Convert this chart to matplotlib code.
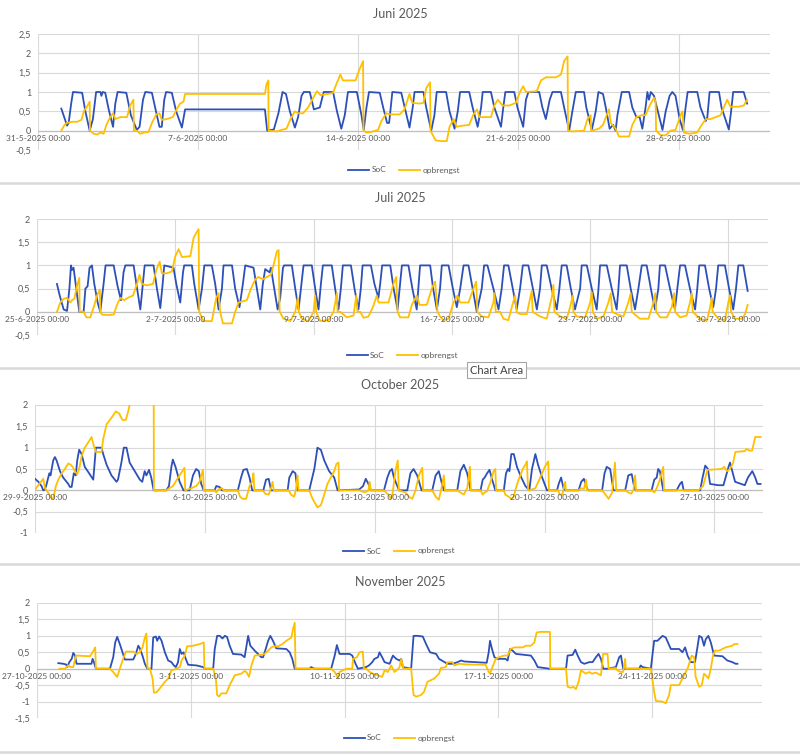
import numpy as np
import pandas as pd
import matplotlib
matplotlib.use("Agg")
import matplotlib.pyplot as plt
import matplotlib.dates as mdates
from matplotlib.lines import Line2D
from matplotlib.ticker import FuncFormatter

plt.rcParams['font.family'] = ['Lato', 'DejaVu Sans']

# (days since first axis date, value)
jun_soc = [(1.02,.57),(1.27,.13),(1.34,.2),(1.45,.7),(1.53,1),(1.93,.98),(2.07,.5),(2.26,0),(2.40,.3),(2.54,1),(2.73,1),(2.77,.9),(2.83,1),(2.94,.98),(3.09,.55),(3.28,.1),(3.38,.7),(3.48,1),(3.86,.98),(4.06,.4),(4.32,.02),(4.44,.1),(4.59,.8),(4.69,1),(4.98,.98),(5.12,.6),(5.31,.1),(5.41,.1),(5.52,.8),(5.60,1),(5.85,.98),(6.04,.5),(6.29,.08),(6.43,.55),(9.92,.55),(10.02,0),(10.31,.03),(10.51,.45),(10.69,1),(10.84,.95),(11.01,.5),(11.23,.08),(11.37,.35),(11.52,.9),(11.62,1),(11.88,1),(12.06,.55),(12.32,.6),(12.49,1),(12.90,1),(13.07,.5),(13.26,.05),(13.41,.4),(13.55,1),(13.94,1),(14.14,.4),(14.24,.02),(14.36,.6),(14.47,1),(14.94,.98),(15.09,.6),(15.26,.2),(15.35,.2),(15.49,1),(15.88,.98),(16.07,.5),(16.24,.08),(16.38,.6),(16.46,1),(16.85,1),(16.97,.6),(17.19,0),(17.33,.4),(17.43,1),(17.84,1),(17.99,.5),(18.21,.05),(18.35,.5),(18.45,1),(18.85,1),(19.00,.6),(19.22,.1),(19.37,.6),(19.44,1),(19.80,1),(19.95,.6),(20.24,.1),(20.34,.6),(20.43,1),(20.82,1),(20.96,.6),(21.21,.1),(21.33,.8),(21.44,1),(21.91,1),(22.05,.6),(22.20,.3),(22.37,.8),(22.49,1),(22.86,1),(23.00,.6),(23.22,0),(23.36,.5),(23.51,1),(23.87,1),(23.97,.6),(24.21,.02),(24.38,.5),(24.50,1),(24.70,.95),(24.82,.6),(24.99,.05),(25.14,.15),(25.25,0),(25.33,.4),(25.52,1),(25.84,1),(25.98,.6),(26.16,.35),(26.30,.35),(26.42,.05),(26.56,.6),(26.64,1),(26.71,.8),(26.79,1),(26.93,.9),(27.12,.45),(27.30,.02),(27.44,.5),(27.61,.9),(27.73,1),(27.87,.9),(28.05,.3),(28.19,.02),(28.31,.6),(28.40,1),(28.82,1),(28.96,.6),(29.19,.25),(29.26,.35),(29.36,1),(29.77,1),(29.88,.6),(30.20,.03),(30.30,.5),(30.39,1),(30.85,1),(31.00,.7)]
jun_opb = [(1.02,0),(1.16,.15),(1.27,.2),(1.49,.23),(1.71,.23),(1.90,.28),(2.00,.5),(2.12,.6),(2.26,.75),(2.27,0),(2.44,-.08),(2.58,-.1),(2.73,-.05),(2.87,-.08),(2.99,.15),(3.16,.35),(3.28,.45),(3.38,.3),(3.60,.35),(3.89,.35),(4.03,.65),(4.17,.8),(4.19,0),(4.32,0),(4.47,-.08),(4.64,-.05),(4.83,-.03),(4.98,.2),(5.17,.42),(5.31,.45),(5.41,.28),(5.63,.3),(5.89,.35),(6.06,.55),(6.21,.7),(6.36,.75),(6.43,.95),(9.92,.95),(9.99,1.2),(10.07,1.3),(10.08,0),(10.43,-.02),(10.65,.02),(10.86,.05),(11.04,.3),(11.23,.5),(11.37,.45),(11.59,.45),(11.81,.6),(12.03,.85),(12.20,1.02),(12.35,.92),(12.68,.95),(12.90,.98),(13.04,1.2),(13.22,1.45),(13.33,1.3),(13.88,1.3),(14.03,1.55),(14.21,1.8),(14.23,0),(14.36,-.05),(14.58,-.03),(14.87,.02),(15.01,.25),(15.23,.45),(15.40,.42),(15.81,.42),(16.02,.55),(16.24,.95),(16.36,.72),(16.68,.7),(16.85,.72),(16.97,1.1),(17.14,1.25),(17.16,0),(17.38,-.25),(17.62,-.27),(17.87,-.27),(17.99,.1),(18.17,.3),(18.30,.1),(18.45,.12),(18.85,.15),(19.02,.4),(19.19,.55),(19.30,.35),(19.80,.35),(19.95,.65),(20.10,.8),(20.31,.65),(20.60,.65),(20.89,.72),(21.07,1.0),(21.21,1.15),(21.33,1.0),(21.80,1.02),(21.99,1.3),(22.20,1.38),(22.64,1.38),(22.86,1.45),(23.00,1.8),(23.15,1.92),(23.17,0),(23.36,-.02),(23.87,0),(24.02,.3),(24.16,.4),(24.18,0),(24.52,.05),(24.70,.15),(24.89,.45),(24.96,.55),(25.04,.2),(25.25,.05),(25.40,-.15),(25.84,-.15),(25.98,.15),(26.16,.35),(26.39,.4),(26.56,.4),(26.74,.65),(26.93,.85),(27.00,.75),(27.02,0),(27.22,-.12),(27.44,-.12),(27.65,0),(27.87,.02),(28.09,.4),(28.17,.5),(28.24,-.05),(28.46,-.08),(28.82,-.05),(28.96,.1),(29.19,.3),(29.40,.3),(29.62,.35),(29.84,.4),(29.98,.6),(30.13,.8),(30.27,.62),(30.63,.62),(30.85,.65),(31.00,.8)]

jul_soc = [(1.01,.6),(1.15,.35),(1.35,.05),(1.52,.02),(1.64,.5),(1.72,1),(1.77,.9),(1.85,.95),(1.99,.5),(2.14,0),(2.36,0),(2.45,.5),(2.56,.55),(2.66,.95),(2.78,1),(2.90,.6),(3.07,.2),(3.20,0),(3.37,.6),(3.47,1),(3.88,1),(4.08,.55),(4.25,.25),(4.38,.85),(4.47,1),(4.89,1),(5.03,.6),(5.23,.05),(5.36,.6),(5.45,1),(5.90,1),(6.07,.5),(6.24,.08),(6.36,.6),(6.44,1),(6.91,.95),(7.05,.6),(7.25,.2),(7.39,.85),(7.45,1),(7.84,1),(7.96,.6),(8.18,.05),(8.35,.5),(8.47,1),(8.85,1),(9.02,.6),(9.19,.05),(9.36,.5),(9.44,1),(9.87,1),(10.03,.5),(10.25,.1),(10.42,.6),(10.54,1),(10.96,.95),(11.13,.5),(11.30,.05),(11.43,.6),(11.55,.92),(11.77,.85),(11.84,.95),(11.97,.6),(12.18,.05),(12.31,.3),(12.45,.95),(12.51,1),(12.90,1),(13.07,.5),(13.24,.05),(13.36,.5),(13.49,1),(13.91,1),(14.08,.5),(14.25,.05),(14.37,.6),(14.47,1),(14.92,1),(15.09,.5),(15.26,.05),(15.38,.5),(15.48,1),(15.89,1),(16.07,.5),(16.27,.05),(16.39,.5),(16.48,1),(16.90,1),(17.08,.6),(17.28,.3),(17.37,.6),(17.47,1),(17.88,1),(18.05,.5),(18.25,.05),(18.38,.6),(18.47,1),(18.80,1),(19.00,.5),(19.22,.05),(19.30,.5),(19.39,1),(19.90,1),(20.05,.5),(20.24,.05),(20.40,.5),(20.49,1),(20.83,1),(21.05,.5),(21.25,.1),(21.42,.5),(21.59,1),(21.84,1),(22.05,.5),(22.26,0),(22.51,.5),(22.63,1),(22.80,1),(23.10,.5),(23.36,.05),(23.52,.5),(23.64,1),(23.86,1),(24.08,.5),(24.28,.05),(24.45,.5),(24.59,1),(24.87,1),(25.10,.5),(25.30,.05),(25.46,.5),(25.55,1),(25.80,1),(26.05,.5),(26.31,.05),(26.44,.5),(26.56,1),(26.81,1),(27.02,.5),(27.23,.05),(27.49,.5),(27.57,1),(27.83,1),(28.08,.5),(28.33,.05),(28.42,.5),(28.50,1),(28.84,1),(29.09,.5),(29.34,.05),(29.43,.5),(29.51,1),(29.85,1),(30.05,.5),(30.27,.05),(30.44,.5),(30.61,1),(30.86,1),(31.07,.5),(31.28,.05),(31.45,.5),(31.53,1),(31.79,1),(32.04,.5),(32.29,.05),(32.41,.5),(32.55,1),(32.80,1),(33.05,.5),(33.31,.05),(33.42,.5),(33.52,1),(33.81,1),(34.02,.5),(34.23,.1),(34.37,.5),(34.48,1),(34.82,1),(35.03,.5),(35.24,.05),(35.38,.5),(35.50,1),(35.75,1),(35.97,.45)]
jul_opb = [(1.01,0),(1.18,.2),(1.35,.28),(1.52,.3),(1.69,.2),(1.77,.25),(1.89,.28),(2.02,.55),(2.14,.73),(2.16,0),(2.36,0),(2.50,-.12),(2.70,-.12),(2.87,.1),(3.04,.35),(3.18,.48),(3.20,0),(3.29,-.06),(3.54,-.07),(3.88,-.06),(4.05,.15),(4.22,.3),(4.42,.25),(4.59,.3),(4.86,.35),(5.06,.6),(5.19,.8),(5.31,.6),(5.56,.57),(5.87,.6),(6.04,.9),(6.21,1.08),(6.32,.83),(6.58,.83),(6.83,.87),(7.00,1.2),(7.17,1.35),(7.34,1.18),(7.76,1.2),(7.93,1.6),(8.09,1.72),(8.18,1.78),(8.21,0),(8.43,-.2),(8.85,-.2),(9.07,.3),(9.19,.4),(9.27,0),(9.41,-.25),(9.87,-.25),(10.03,0),(10.20,.2),(10.62,.25),(10.83,.5),(11.05,.7),(11.21,.75),(11.43,.7),(11.64,.75),(11.84,.8),(11.97,1.0),(12.14,1.3),(12.23,1.33),(12.28,0),(12.48,-.15),(12.82,-.2),(13.07,0),(13.20,.3),(13.25,0),(13.41,-.15),(13.74,-.2),(14.00,0),(14.08,.35),(14.13,0),(14.33,-.2),(14.76,-.18),(15.01,0),(15.18,.4),(15.21,0),(15.35,0),(15.68,-.12),(16.02,-.08),(16.16,.35),(16.22,0),(16.36,0),(16.53,-.13),(16.78,-.1),(17.00,.1),(17.20,.35),(17.29,.2),(17.79,.2),(18.04,.6),(18.18,.75),(18.25,0),(18.38,-.12),(18.80,-.12),(18.97,.15),(19.22,.35),(19.36,.15),(19.73,.15),(19.98,.5),(20.15,.65),(20.27,0),(20.40,-.1),(20.57,-.18),(20.83,-.15),(21.08,.2),(21.28,.35),(21.42,.2),(21.84,.2),(22.09,.5),(22.23,.65),(22.29,0),(22.51,-.1),(22.85,-.12),(23.10,.2),(23.15,.4),(23.22,0),(23.44,0),(23.61,-.15),(23.86,-.18),(24.03,.1),(24.20,.35),(24.28,0),(24.45,-.05),(24.79,-.05),(25.04,.45),(25.09,0),(25.46,-.1),(25.80,-.15),(26.05,.3),(26.14,.58),(26.19,0),(26.48,-.1),(26.81,-.15),(26.98,.1),(27.12,.35),(27.15,0),(27.32,-.1),(27.74,-.12),(28.00,.2),(28.08,.42),(28.13,0),(28.33,-.15),(28.67,-.1),(28.92,.2),(29.04,.4),(29.11,0),(29.34,-.05),(29.68,-.1),(29.93,.2),(30.05,.4),(30.10,0),(30.52,-.15),(30.95,-.15),(31.20,.2),(31.29,.4),(31.34,0),(31.54,-.12),(31.88,-.12),(32.13,.1),(32.25,.4),(32.30,0),(32.55,-.12),(32.88,-.08),(33.05,.2),(33.14,.4),(33.19,0),(33.56,-.15),(33.90,-.2),(34.07,.1),(34.15,.3),(34.20,0),(34.49,-.15),(34.82,-.18),(34.99,.2),(35.08,.35),(35.13,0),(35.33,-.15),(35.67,-.15),(35.84,-.05),(35.97,.15)]

oct_soc = [(0.0,.27),(0.14,.2),(0.27,.1),(0.34,0),(0.41,.02),(0.48,.15),(0.59,.4),(0.64,.35),(0.75,.7),(0.82,.78),(0.89,.7),(1.03,.45),(1.16,.3),(1.37,.15),(1.44,.08),(1.51,.08),(1.60,.4),(1.68,.35),(1.74,.7),(1.82,.95),(1.92,.85),(2.05,.55),(2.23,.4),(2.40,.25),(2.51,1),(2.74,1),(2.81,.85),(2.95,.6),(3.15,.35),(3.36,.2),(3.42,.25),(3.56,.65),(3.66,1),(3.77,1),(3.90,.65),(4.11,.45),(4.32,.25),(4.42,.2),(4.52,.45),(4.59,.35),(4.70,.48),(4.79,.3),(4.89,0),(5.41,0),(5.52,.1),(5.62,.55),(5.68,.72),(5.79,.55),(5.96,.2),(6.12,0),(6.37,0),(6.51,.35),(6.64,.5),(6.75,.45),(6.85,.15),(6.95,0),(7.40,0),(7.47,.1),(7.60,.08),(7.71,0),(8.36,0),(8.49,.3),(8.59,.48),(8.73,.5),(8.84,.3),(8.95,0),(9.41,0),(9.52,.25),(9.63,.27),(9.73,0),(10.41,0),(10.48,.3),(10.62,.45),(10.73,.4),(10.82,0),(11.30,0),(11.51,.5),(11.64,1),(11.78,.95),(11.92,.7),(12.12,.45),(12.33,.3),(12.47,0),(13.36,.02),(13.52,.1),(13.63,.27),(13.74,.15),(13.84,0),(14.38,0),(14.52,.3),(14.62,.45),(14.71,.5),(14.79,.3),(15.0,0),(15.34,0),(15.47,.4),(15.60,.5),(15.75,.35),(15.93,0),(16.37,0),(16.51,.35),(16.64,.45),(16.75,.2),(16.85,0),(17.40,0),(17.53,.45),(17.67,.6),(17.81,.4),(17.95,0),(18.36,0),(18.45,.25),(18.53,.3),(18.63,.4),(18.73,.48),(18.84,.25),(18.97,0),(19.32,0),(19.41,.4),(19.49,.5),(19.55,.45),(19.63,.85),(19.73,.85),(19.86,.55),(20.04,.3),(20.21,.1),(20.37,0),(20.48,.5),(20.62,.85),(20.73,.6),(20.90,.3),(21.10,0),(21.51,0),(21.58,.15),(21.68,.3),(21.78,.05),(21.85,0),(22.40,0),(22.51,.2),(22.62,.27),(22.71,.1),(22.79,0),(23.37,0),(23.47,.4),(23.56,.55),(23.70,.5),(23.84,0),(24.32,0),(24.45,.35),(24.59,.38),(24.70,.05),(24.75,0),(25.41,0),(25.52,.25),(25.62,.3),(25.68,.5),(25.75,.45),(25.89,0),(26.44,0),(26.58,.15),(26.66,.2),(26.73,0),(27.41,0),(27.51,.3),(27.62,.58),(27.73,.5),(27.82,.15),(28.16,.12),(28.37,.12),(28.58,.55),(28.64,.65),(28.71,.5),(28.85,.2),(29.25,.12),(29.38,.3),(29.56,.45),(29.68,.3),(29.77,.15),(29.90,.15)]
oct_opb = [(0.0,.02),(0.18,.15),(0.34,.27),(0.41,.05),(0.48,0),(0.59,-.1),(0.68,-.18),(0.75,-.2),(0.86,.1),(0.96,.25),(1.10,.4),(1.23,.5),(1.37,.63),(1.47,.6),(1.55,.55),(1.64,.45),(1.74,.38),(1.82,.5),(1.92,.8),(2.05,1.0),(2.19,1.12),(2.33,1.25),(2.42,1.05),(2.51,.9),(2.74,.9),(2.81,1.2),(2.95,1.55),(3.15,1.7),(3.33,1.85),(3.47,1.8),(3.60,1.65),(3.74,1.65),(3.84,1.85),(3.90,2.0),(4.18,2.4),(4.89,2.6),(4.90,0),(5.41,0),(5.68,.1),(5.96,.35),(6.16,.53),(6.19,0),(6.44,.05),(6.64,.1),(6.78,.2),(6.92,.48),(6.96,0),(7.40,0),(7.47,-.05),(7.58,.03),(7.71,.05),(7.77,0),(8.36,0),(8.45,-.15),(8.56,-.2),(8.70,-.2),(8.84,.1),(8.95,.2),(9.00,.4),(9.04,0),(9.38,0),(9.49,-.08),(9.63,-.1),(9.73,.05),(9.79,.2),(9.84,0),(10.45,0),(10.55,-.1),(10.68,-.15),(10.75,0),(10.82,.35),(10.86,0),(11.30,0),(11.44,-.2),(11.64,-.4),(11.78,-.35),(11.92,-.1),(12.05,.15),(12.19,.3),(12.33,.45),(12.42,.62),(12.51,.65),(12.53,0),(13.36,0),(13.60,-.05),(13.74,0),(13.79,.2),(13.84,0),(14.38,0),(14.56,-.1),(14.66,-.2),(14.73,-.1),(14.85,.45),(14.95,.7),(14.99,0),(15.27,-.05),(15.41,-.15),(15.55,-.2),(15.68,0),(15.82,.35),(15.96,.53),(15.99,0),(16.37,0),(16.51,-.15),(16.64,-.22),(16.75,.05),(16.85,.35),(16.89,0),(17.40,0),(17.53,-.05),(17.67,-.1),(17.81,.05),(17.88,.35),(17.92,.55),(17.96,0),(18.36,0),(18.45,-.1),(18.53,-.05),(18.63,-.02),(18.77,.2),(18.90,.45),(18.97,.5),(19.00,0),(19.32,0),(19.38,-.1),(19.52,-.15),(19.63,-.2),(19.73,-.15),(19.79,0),(19.93,.25),(20.10,.5),(20.21,.6),(20.27,.68),(20.32,0),(20.37,0),(20.62,.05),(20.82,.3),(21.01,.55),(21.15,.68),(21.18,0),(21.56,0),(21.62,-.1),(21.73,-.1),(21.77,0),(21.85,.2),(21.88,0),(22.40,0),(22.51,.05),(22.62,.03),(22.71,.25),(22.75,0),(23.37,0),(23.51,-.1),(23.64,-.2),(23.78,-.05),(23.84,.3),(23.90,.65),(23.95,0),(24.32,0),(24.45,-.05),(24.56,-.08),(24.66,0),(24.73,.35),(24.77,0),(25.41,0),(25.52,-.05),(25.62,.05),(25.75,.25),(25.89,.55),(25.92,0),(27.33,0),(27.53,.1),(27.71,.48),(28.29,.5),(28.40,.55),(28.51,.45),(28.64,.5),(28.77,.65),(28.86,.9),(29.25,.92),(29.32,.97),(29.45,.93),(29.55,.93),(29.68,1.25),(29.90,1.25)]

nov_soc = [(0.97,.17),(1.20,.15),(1.32,.13),(1.38,.05),(1.47,.2),(1.58,.3),(1.65,.48),(1.73,.4),(1.80,.15),(2.48,.15),(2.53,.3),(2.59,.2),(2.68,0),(3.32,0),(3.47,.35),(3.56,.8),(3.65,.97),(3.77,.75),(3.92,.45),(4.00,.28),(4.38,.28),(4.50,.45),(4.61,.7),(4.68,.62),(4.80,.4),(4.91,.15),(5.02,0),(5.21,0),(5.29,.95),(5.41,.98),(5.47,.85),(5.56,.98),(5.67,.85),(5.82,.5),(5.97,.25),(6.12,.2),(6.23,.1),(6.32,.05),(6.42,.2),(6.50,.6),(6.58,.45),(6.68,.5),(6.77,.3),(6.88,.12),(7.26,.1),(7.56,.05),(7.64,0),(8.02,0),(8.09,.6),(8.20,1),(8.32,1),(8.44,.92),(8.55,1),(8.65,.97),(8.77,.7),(8.92,.45),(9.30,.43),(9.45,.35),(9.61,1),(9.71,.7),(9.91,.55),(10.21,.35),(10.29,.35),(10.41,.6),(10.52,.85),(10.62,1),(10.74,.85),(10.89,.62),(11.35,.6),(11.50,.5),(11.62,.3),(11.73,0),(12.41,0),(12.48,.05),(12.56,.02),(12.64,0),(13.39,0),(13.55,.4),(13.65,.72),(13.77,.45),(14.23,.45),(14.35,.4),(14.50,.15),(14.61,0),(14.98,.05),(15.11,.1),(15.26,.2),(15.36,.3),(15.52,.35),(15.59,.5),(15.71,.35),(15.82,.2),(16.05,.15),(16.20,.4),(16.35,.3),(16.50,.25),(16.58,.3),(16.65,.05),(17.03,0),(17.14,1),(17.33,1),(17.56,.98),(17.71,.75),(17.89,.5),(18.17,.45),(18.30,.3),(18.68,.15),(18.91,.15),(19.14,.2),(19.30,.25),(19.45,.22),(20.47,.18),(20.56,.5),(20.62,.85),(20.71,.6),(20.82,.35),(20.97,.3),(21.32,.3),(21.42,.25),(21.53,.6),(21.65,.55),(21.80,.45),(22.48,.4),(22.64,.25),(22.79,.05),(23.32,0),(24.08,0),(24.15,.4),(24.38,.42),(24.50,.58),(24.61,.4),(24.76,.2),(24.91,.15),(25.14,.2),(25.29,.2),(25.44,.35),(25.56,.45),(25.67,.3),(25.77,0),(25.97,0),(26.35,.05),(26.50,.35),(26.58,.4),(26.68,0),(27.41,0),(27.48,.1),(27.56,.05),(27.94,0),(28.09,.85),(28.24,.85),(28.47,1),(28.62,.95),(28.85,.6),(29.23,.6),(29.38,.5),(29.50,.65),(29.61,.4),(29.76,.2),(29.95,.2),(30.06,.65),(30.14,1),(30.26,.95),(30.36,.7),(30.44,.9),(30.56,1),(30.67,.8),(30.82,.4),(31.20,.38),(31.42,.25),(31.65,.2),(31.80,.15),(31.88,.15)]
nov_opb = [(1.02,0),(1.27,0),(1.42,.1),(1.53,.05),(1.65,.05),(1.77,.4),(2.41,.38),(2.53,.5),(2.65,.65),(2.68,0),(3.32,0),(3.47,-.1),(3.65,-.25),(3.77,0),(3.92,.3),(4.05,.52),(4.38,.52),(4.53,.45),(4.68,.5),(4.80,.65),(4.91,.95),(4.98,1.07),(5.03,0),(5.14,0),(5.26,-.3),(5.32,-.73),(5.44,-.72),(5.59,-.6),(5.82,-.4),(5.97,-.3),(6.12,-.05),(6.27,-.02),(6.50,.05),(6.58,.25),(6.73,.4),(6.83,.68),(7.11,.7),(7.41,.75),(7.59,.8),(7.62,0),(8.02,0),(8.14,-.3),(8.20,-.8),(8.29,-.85),(8.39,-.75),(8.62,-.75),(8.77,-.5),(9.00,-.2),(9.30,-.15),(9.45,-.07),(9.53,-.1),(9.65,-.25),(9.76,.1),(9.91,.4),(10.21,.42),(10.36,.45),(10.52,.55),(10.67,.65),(10.77,.68),(10.97,.68),(11.17,.75),(11.35,.85),(11.58,.95),(11.65,1.2),(11.73,1.4),(11.77,0),(13.39,0),(13.55,-.1),(13.70,-.28),(13.77,-.1),(14.08,0),(14.35,0),(14.38,.3),(14.56,.35),(14.68,.5),(14.83,.52),(14.88,0),(14.98,0),(15.14,-.1),(15.29,-.15),(15.52,-.2),(15.71,-.25),(15.82,-.05),(15.97,-.1),(16.12,.1),(16.27,-.1),(16.42,-.02),(16.50,.05),(16.58,.3),(16.68,0),(17.03,0),(17.14,-.8),(17.26,-.85),(17.48,-.8),(17.62,-.7),(17.77,-.4),(18.08,-.3),(18.30,-.15),(18.38,.02),(18.61,.05),(18.68,.2),(18.91,.2),(18.99,.1),(19.21,.15),(19.52,.13),(20.42,.12),(20.56,-.1),(20.62,-.15),(20.73,.05),(20.88,.3),(21.03,.35),(21.26,.4),(21.42,.4),(21.56,.6),(21.73,.65),(22.11,.65),(22.26,.7),(22.48,.7),(22.64,.8),(22.74,1.1),(22.89,1.12),(23.35,1.12),(23.36,0),(24.08,0),(24.15,-.55),(24.30,-.58),(24.41,-.55),(24.53,-.62),(24.65,-.4),(24.76,-.05),(24.98,-.15),(25.14,-.1),(25.26,-.15),(25.44,-.12),(25.67,-.2),(25.77,.45),(25.97,.45),(26.02,0),(26.35,.02),(26.42,-.05),(26.58,-.1),(26.68,-.1),(26.77,.3),(26.80,0),(27.94,0),(28.09,-.7),(28.17,-.98),(28.47,-1.0),(28.62,-1.05),(28.77,-.8),(28.85,-.5),(29.23,-.5),(29.45,-.2),(29.61,0),(29.80,.4),(29.91,.35),(29.98,-.25),(30.14,-.55),(30.26,-.5),(30.36,-.15),(30.44,-.2),(30.56,-.3),(30.67,0),(30.77,.4),(30.86,.55),(31.05,.55),(31.20,.6),(31.35,.65),(31.65,.7),(31.73,.75),(31.88,.75)]

titles = ["Juni 2025", "Juli 2025", "October 2025", "November 2025"]
axis_starts = ["2025-05-31", "2025-06-25", "2025-09-29", "2025-10-27"]
axis_days = [32, 37, 30, 33]
y_ranges = [(-0.5, 2.5), (-0.5, 2.0), (-1.0, 2.0), (-1.5, 2.0)]
soc_series = [jun_soc, jul_soc, oct_soc, nov_soc]
opb_series = [jun_opb, jul_opb, oct_opb, nov_opb]

# layout in pixels: plot box (left, top, right, bottom), title y, legend y
W, H = 800, 755
boxes = [(38, 34, 770, 150), (37, 219, 768, 335), (35, 405, 763, 533), (37, 603, 762, 718)]
title_y = [14, 198, 385, 582]
legend_y = [170, 355, 551, 738]
sep_y = [183, 368, 564, 752]

SOC_C = "#2D50B8"
OPB_C = "#FFC000"
TXT = "#595959"

fig = plt.figure(figsize=(W / 100, H / 100), dpi=100)

for i in range(4):
    l, t, r, b = boxes[i]
    ax = fig.add_axes([l / W, 1 - b / H, (r - l) / W, (b - t) / H])
    t0 = pd.Timestamp(axis_starts[i])
    for series, color, name in ((soc_series[i], SOC_C, "SoC"), (opb_series[i], OPB_C, "opbrengst")):
        days, vals = zip(*series)
        x = mdates.date2num((t0 + pd.to_timedelta(list(days), unit="D")).to_pydatetime())
        ax.plot(x, vals, color=color, lw=1.3, label=name, zorder=3)

    x0 = mdates.date2num(t0.to_pydatetime())
    ax.set_xlim(x0, x0 + axis_days[i])
    ax.set_ylim(*y_ranges[i])

    ticks = pd.date_range(t0, t0 + pd.Timedelta(days=axis_days[i]), freq="7D")
    tick_x = mdates.date2num(ticks.to_pydatetime())
    ax.set_xticks(tick_x)
    ax.set_xticklabels([])
    ax.set_yticks(np.arange(y_ranges[i][0], y_ranges[i][1] + 0.01, 0.5))
    ax.yaxis.set_major_formatter(FuncFormatter(lambda v, p: f"{v:g}".replace(".", ",")))
    ax.tick_params(length=0, labelsize=6.5, labelcolor=TXT, pad=5)
    ax.grid(color="#d9d9d9", lw=0.8)
    ax.set_axisbelow(True)
    ax.axhline(0, color="#bfbfbf", lw=0.9, zorder=1)
    for s in ax.spines.values():
        s.set_visible(False)

    for d, xv in zip(ticks, tick_x):
        ax.annotate(f"{d.day}-{d.month}-{d.year} 00:00", (xv, 0), xytext=(0, -3),
                    textcoords="offset points", ha="center", va="top",
                    fontsize=6, color=TXT, annotation_clip=False)

    fig.text(0.5, 1 - title_y[i] / H, titles[i], ha="center", va="center", fontsize=9, color=TXT)
    ax.legend(loc="center", bbox_to_anchor=(0.5, (b - legend_y[i]) / (b - t)), ncol=2,
              frameon=False, fontsize=6, handlelength=2.5, handletextpad=0.3,
              columnspacing=1.5, labelcolor=TXT)

for y in sep_y:
    fig.add_artist(Line2D([0, 1], [1 - y / H] * 2, color="#d9d9d9", lw=1.8))

fig.text(470 / W, 1 - 370 / H, "Chart Area", fontsize=8, color="#404040", ha="left", va="center",
         bbox=dict(boxstyle="square,pad=0.25", fc="white", ec="#a6a6a6", lw=0.8))

fig.savefig("out.png", dpi=100)
